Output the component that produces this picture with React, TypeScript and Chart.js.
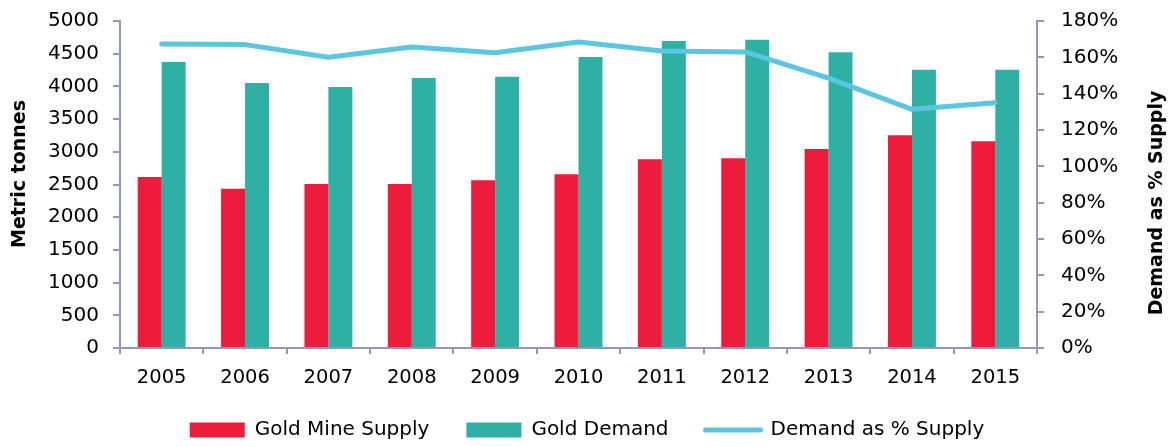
import React, { useEffect, useRef } from "react";
import { Chart, registerables } from "chart.js";

Chart.register(...registerables);

const years = ["2005", "2006", "2007", "2008", "2009", "2010", "2011", "2012", "2013", "2014", "2015"];
const mineSupply = [2615, 2436, 2508, 2508, 2564, 2656, 2885, 2900, 3043, 3252, 3160];
const goldDemand = [4373, 4052, 3991, 4128, 4148, 4450, 4694, 4714, 4521, 4255, 4255];
const demandPct = [167.3, 167.0, 160.0, 165.7, 162.5, 168.4, 163.5, 163.0, 148.6, 131.4, 135.0];
const leftTicks = [0, 500, 1000, 1500, 2000, 2500, 3000, 3500, 4000, 4500, 5000];
const rightTicks = [0, 20, 40, 60, 80, 100, 120, 140, 160, 180];

const AXIS = "#9397C0";
const RED = "#ED1B3C";
const TEAL = "#2FB0A4";
const LINE = "#5BC6E1";
const FONT = '"DejaVu Sans", sans-serif';

const titlePlugin = {
  id: "axisTitles",
  afterDraw(chart: any) {
    const ctx = chart.ctx;
    ctx.save();
    ctx.font = `bold 19px ${FONT}`;
    ctx.fillStyle = "#000";
    ctx.textAlign = "center";
    ctx.textBaseline = "middle";
    ctx.translate(20, 174);
    ctx.rotate(-Math.PI / 2);
    ctx.fillText("Metric tonnes", 0, 0);
    ctx.restore();
    ctx.save();
    ctx.font = `bold 19px ${FONT}`;
    ctx.fillStyle = "#000";
    ctx.textAlign = "center";
    ctx.textBaseline = "middle";
    ctx.translate(1157, 203);
    ctx.rotate(-Math.PI / 2);
    ctx.fillText("Demand as % Supply", 0, 0);
    ctx.restore();
  },
};

export default function App() {
  const ref = useRef<HTMLCanvasElement | null>(null);
  useEffect(() => {
    if (!ref.current) return;
    const chart = new Chart(ref.current, {
      type: "bar",
      data: {
        labels: years,
        datasets: [
          {
            type: "bar",
            label: "Gold Mine Supply",
            data: mineSupply,
            backgroundColor: RED,
            borderWidth: 0,
            yAxisID: "y",
            order: 1,
            categoryPercentage: 0.575,
            barPercentage: 1.0,
          },
          {
            type: "bar",
            label: "Gold Demand",
            data: goldDemand,
            backgroundColor: TEAL,
            borderWidth: 0,
            yAxisID: "y",
            order: 1,
            categoryPercentage: 0.575,
            barPercentage: 1.0,
          },
          {
            type: "line",
            label: "Demand as % Supply",
            data: demandPct,
            borderColor: LINE,
            backgroundColor: LINE,
            borderWidth: 5,
            borderCapStyle: "round",
            borderJoinStyle: "round",
            pointRadius: 0,
            tension: 0,
            yAxisID: "y1",
            order: 0,
          } as any,
        ],
      },
      options: {
        animation: false,
        responsive: false,
        maintainAspectRatio: false,
        layout: { padding: { top: 21, left: 0, right: 0, bottom: 0 } },
        plugins: {
          tooltip: { enabled: false },
          legend: {
            position: "bottom",
            maxHeight: 64,
            labels: {
              usePointStyle: true,
              pointStyleWidth: 55,
              boxHeight: 15,
              padding: 37,
              color: "#000",
              font: { family: FONT, size: 20 },
              sort: (a: any, b: any) => a.datasetIndex - b.datasetIndex,
              generateLabels: (chart: any) =>
                Chart.defaults.plugins.legend.labels.generateLabels(chart).map((l: any) => ({
                  ...l,
                  pointStyle: l.datasetIndex === 2 ? "line" : "rect",
                  lineWidth: l.datasetIndex === 2 ? 5 : 0,
                  strokeStyle: l.datasetIndex === 2 ? LINE : "rgba(0,0,0,0)",
                  lineCap: "round",
                })),
            },
          },
        },
        scales: {
          x: {
            offset: true,
            grid: {
              display: true,
              offset: true,
              drawOnChartArea: false,
              drawTicks: true,
              tickLength: 6,
              color: AXIS,
              lineWidth: 2,
            },
            border: { display: true, color: AXIS, width: 2 },
            ticks: { color: "#000", font: { family: FONT, size: 19.5 }, padding: 12, maxRotation: 0 },
            afterFit: (s: any) => {
              s.height = 35;
              s.paddingLeft = 0;
              s.paddingRight = 0;
            },
          },
          y: {
            position: "left",
            min: 0,
            max: 5000,
            afterBuildTicks: (s: any) => {
              s.ticks = leftTicks.map((v) => ({ value: v }));
            },
            grid: { drawOnChartArea: false, tickLength: 7, color: AXIS, lineWidth: 2 },
            border: { display: true, color: AXIS, width: 2 },
            ticks: {
              color: "#000",
              font: { family: FONT, size: 20 },
              padding: 14,
              callback: (v: any) => String(v),
            },
            afterFit: (s: any) => {
              s.width = 120;
              s.paddingTop = 12;
              s.paddingBottom = 0;
            },
          },
          y1: {
            position: "right",
            min: 0,
            max: 180,
            afterBuildTicks: (s: any) => {
              s.ticks = rightTicks.map((v) => ({ value: v }));
            },
            grid: { drawOnChartArea: false, tickLength: 7, color: AXIS, lineWidth: 2 },
            border: { display: true, color: AXIS, width: 2 },
            ticks: {
              color: "#000",
              font: { family: FONT, size: 20 },
              padding: 17,
              callback: (v: any) => `${v}%`,
            },
            afterFit: (s: any) => {
              s.width = 137;
              s.paddingTop = 12;
              s.paddingBottom = 0;
            },
          },
        },
      },
      plugins: [titlePlugin],
    });
    return () => chart.destroy();
  }, []);
  return (
    <div style={{ position: "absolute", left: 0, top: 0, width: 1174, height: 447, background: "#fff" }}>
      <canvas ref={ref} width={1174} height={447} style={{ display: "block", width: 1174, height: 447 }} />
    </div>
  );
}
